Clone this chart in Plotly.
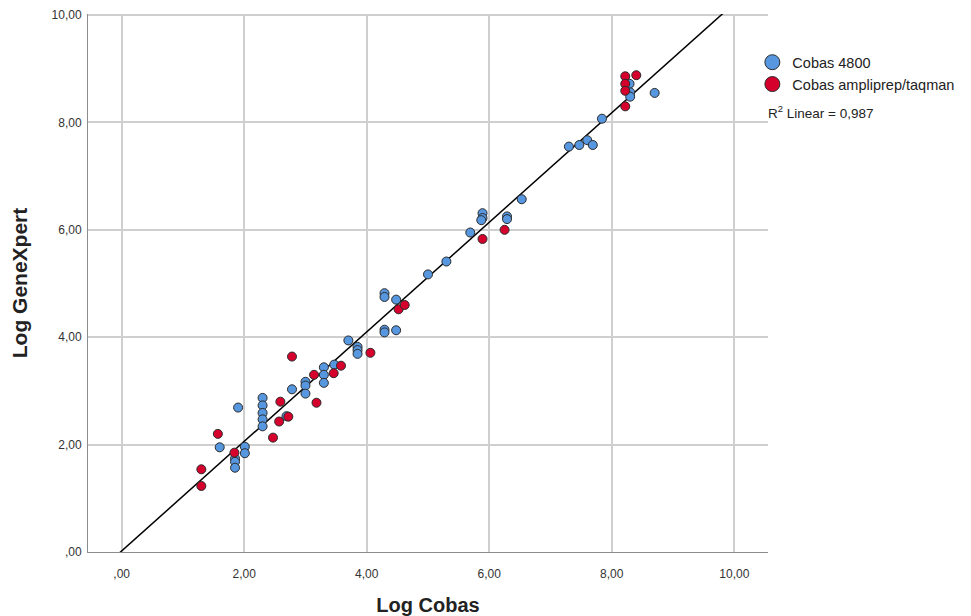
import plotly.graph_objects as go

# Cobas 4800 (blue)
blue_x = [1.60, 1.85, 1.85, 1.85, 1.90, 2.01, 2.01, 2.30, 2.30, 2.30, 2.30, 2.30,
          2.69, 2.78, 3.00, 3.00, 3.00, 3.30, 3.30, 3.30, 3.47, 3.70, 3.85, 3.85, 3.85,
          4.29, 4.29, 4.48, 4.29, 4.29, 4.48, 5.00, 5.30, 5.69, 5.89, 5.89, 5.87,
          6.29, 6.29, 6.53, 7.30, 7.47, 7.60, 7.69, 7.84, 8.29, 8.30, 8.30, 8.70]
blue_y = [1.95, 1.74, 1.68, 1.57, 2.69, 1.96, 1.84, 2.87, 2.73, 2.59, 2.47, 2.34,
          2.53, 3.03, 3.17, 3.10, 2.95, 3.44, 3.30, 3.15, 3.49, 3.94, 3.82, 3.76, 3.69,
          4.82, 4.75, 4.70, 4.14, 4.09, 4.13, 5.17, 5.41, 5.95, 6.31, 6.22, 6.18,
          6.25, 6.20, 6.57, 7.55, 7.58, 7.67, 7.58, 8.07, 8.72, 8.56, 8.48, 8.55]

# Cobas ampliprep/taqman (red)
red_x = [1.30, 1.30, 1.57, 1.84, 2.47, 2.57, 2.59, 2.72, 2.78, 3.14, 3.18, 3.46,
         3.58, 4.06, 4.52, 4.62, 5.89, 6.25, 8.22, 8.40, 8.22, 8.22, 8.22]
red_y = [1.54, 1.23, 2.20, 1.85, 2.13, 2.43, 2.80, 2.52, 3.64, 3.30, 2.78, 3.33,
         3.47, 3.71, 4.52, 4.60, 5.83, 6.00, 8.86, 8.88, 8.72, 8.59, 8.30]

# Linear fit
fit_slope = 1.02
fit_intercept = 0.02
r2_text = "0,987"

x_range = [-0.55, 10.55]
y_range = [0, 10.02]
tick_vals = [0, 2, 4, 6, 8, 10]
tick_text = [",00", "2,00", "4,00", "6,00", "8,00", "10,00"]

series_names = ["Cobas 4800", "Cobas ampliprep/taqman"]
blue_col = "#5797E0"
red_col = "#D5002C"
edge = "#2b2b2b"

fig = go.Figure()

fit_x = [x_range[0], x_range[1]]
fit_y = [fit_intercept + fit_slope * v for v in fit_x]
fig.add_trace(go.Scatter(x=fit_x, y=fit_y, mode="lines",
                         line=dict(color="black", width=1.5),
                         showlegend=False, hoverinfo="skip"))

fig.add_trace(go.Scatter(x=blue_x, y=blue_y, mode="markers", showlegend=False,
                         name=series_names[0],
                         marker=dict(size=9, color=blue_col, line=dict(color=edge, width=1))))
fig.add_trace(go.Scatter(x=red_x, y=red_y, mode="markers", showlegend=False,
                         name=series_names[1],
                         marker=dict(size=9, color=red_col, line=dict(color=edge, width=1))))

# legend entries with larger symbols
for nm, col in zip(series_names, [blue_col, red_col]):
    fig.add_trace(go.Scatter(x=[None], y=[None], mode="markers", name=nm,
                             marker=dict(size=15, color=col, line=dict(color=edge, width=1))))

font_family = "Liberation Sans, Arial, sans-serif"

# page body has an 8px margin, so the figure is 16px smaller than the window
fig.update_layout(
    width=963, height=608,
    margin=dict(l=80, r=203, t=6, b=64, autoexpand=False),
    paper_bgcolor="white", plot_bgcolor="white",
    font=dict(family=font_family, color="#222"),
    legend=dict(x=0.977, y=0.94, xanchor="left", yanchor="top",
                font=dict(size=14.5, color="#222"), bgcolor="rgba(0,0,0,0)",
                tracegroupgap=0, itemsizing="trace"),
    xaxis=dict(range=x_range, tickvals=tick_vals, ticktext=tick_text,
               showgrid=True, gridcolor="#cfcfcf", gridwidth=1.5,
               showline=True, linecolor="#8c8c8c", linewidth=1,
               zeroline=False, ticks="outside", ticklen=11, tickcolor="rgba(0,0,0,0)",
               tickfont=dict(size=12, color="#333"), ticklabeloverflow="allow",
               title=dict(text="<b>Log Cobas</b>", font=dict(size=20, color="#222"),
                          standoff=24)),
    yaxis=dict(range=y_range, tickvals=tick_vals, ticktext=tick_text,
               showgrid=True, gridcolor="#cfcfcf", gridwidth=1.5,
               showline=True, linecolor="#8c8c8c", linewidth=1,
               zeroline=False, ticks="outside", ticklen=3, tickcolor="rgba(0,0,0,0)",
               tickfont=dict(size=12, color="#333"), ticklabeloverflow="allow",
               title=dict(text="<b>Log GeneXpert</b>", font=dict(size=21, color="#222"),
                          standoff=30)),
    annotations=[dict(text="R<sup>2</sup> Linear = " + r2_text, xref="paper", yref="paper",
                      x=0.997, y=0.818, xanchor="left", yanchor="middle", showarrow=False,
                      font=dict(size=13.5, color="#222"))],
)

fig.write_html("out.html")
